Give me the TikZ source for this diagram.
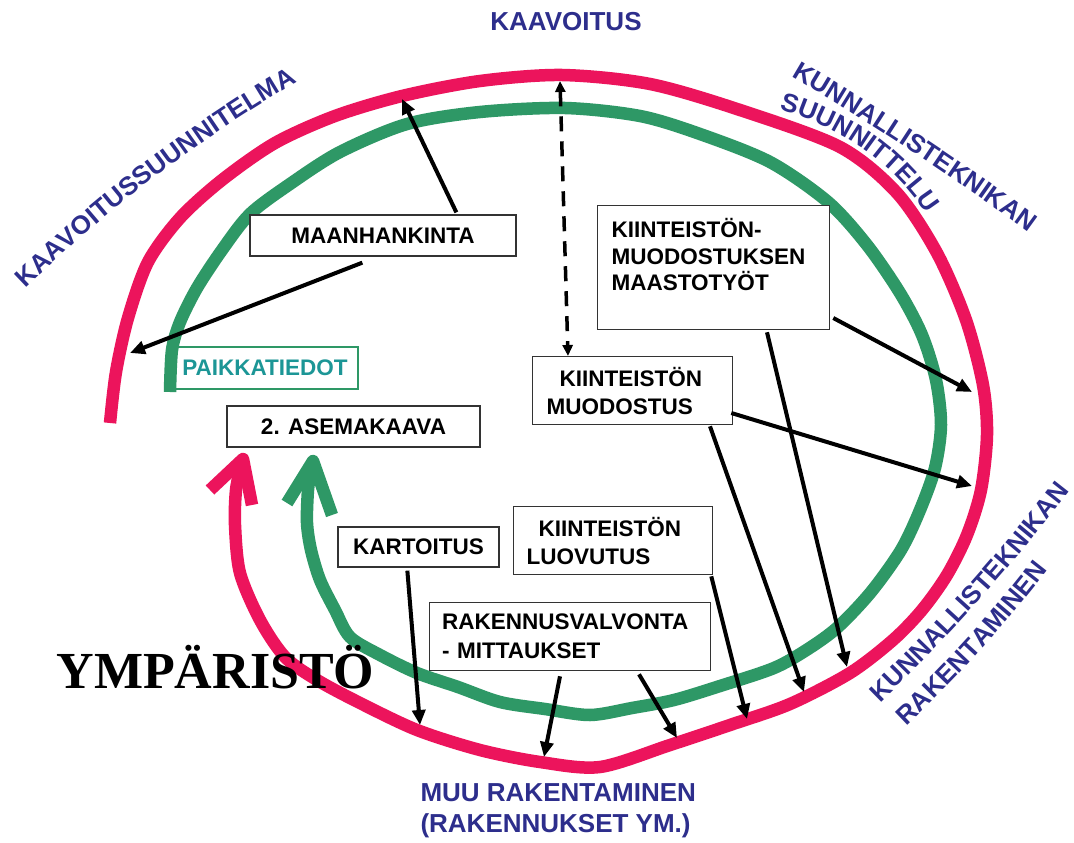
\documentclass[tikz,border=0pt]{standalone}
\usepackage{fontspec}
\setmainfont{Liberation Sans}
\newfontfamily\serifbold{Liberation Serif}
\usetikzlibrary{arrows.meta,calc,decorations.text}
\definecolor{kpink}{RGB}{236,20,92}
\definecolor{kgreen}{RGB}{46,152,102}
\definecolor{kblue}{RGB}{45,46,140}
\definecolor{kteal}{RGB}{28,150,150}
\tikzset{
  band/.style={line width=12.5pt, line cap=butt},
  pinkband/.style={band, draw=kpink},
  greenband/.style={band, draw=kgreen},
  wing/.style={line width=12.5pt, line cap=butt, line join=round},
  box/.style={draw=black!80, line width=1.3pt, fill=white, inner sep=0pt, font=\bfseries\fontsize{22.5}{27}\selectfont},
  tbox/.style={box, anchor=north west, align=left, inner ysep=0pt},
  lbl/.style={text=kblue, font=\bfseries\fontsize{26}{31}\selectfont},
  arr/.style={line width=4pt, -{Triangle[length=15pt,width=13pt]}},
  darr/.style={line width=3.5pt, dash pattern=on 15pt off 10pt, {Triangle[length=11pt,width=10pt]}-{Triangle[length=11pt,width=10pt]}},
  curvedlbl/.style={decorate, decoration={text along path, text align=center, text color=kblue, text={#1}}},
}
\begin{document}
\begin{tikzpicture}[x=1pt,y=-1pt]
\useasboundingbox[fill=white] (0,0) rectangle (1074,843);

% outer (pink) spiral
\draw[pinkband] plot[smooth, tension=0.5] coordinates {(110,423) (116,372) (128,318) (148,262) (180,218) (222,180) (275,143) (335,116) (402,96) (480,81) (562,75) (650,84) (740,110) (840,147) (897,193) (937,253) (966,320) (983,385) (987,435) (981,490) (967,535) (947,575) (922,610) (893,640) (850,673) (790,704) (730,725) (670,745) (600,767) (540,762) (480,750) (417,730) (360,703) (317,680) (285,657) (260,620) (240,573) (235,525) (236,490) (241,466)};
\draw[wing, kpink] (210,490) -- (243,459) -- (252,505);

% inner (green) spiral
\draw[greenband] plot[smooth, tension=0.5] coordinates {(170,392) (172,350) (180,322) (197,288) (222,250) (250,214) (290,184) (340,152) (407,124) (480,112) (565,108) (640,116) (700,134) (770,162) (828,202) (867,245) (900,293) (922,335) (936,380) (941,425) (935,468) (920,510) (901,550) (871,592) (838,627) (808,649) (774,668) (720,686) (674,700) (632,708) (590,715) (545,709) (500,702) (458,687) (417,673) (380,655) (350,637) (335,610) (320,580) (311,550) (307,523) (308,490) (311,470)};
\draw[wing, kgreen] (287,503) -- (313,461) -- (332,515);

% boxes
\node[box, minimum width=266pt, minimum height=41pt] (maan) at (383,235.5) {MAANHANKINTA};
\node[box, minimum width=253pt, minimum height=41pt] (ase) at (353.5,426.5) {2. ASEMAKAAVA};
\node[box, draw=kgreen, fill=none, line width=1.5pt, text=kteal, minimum width=186pt, minimum height=42pt] (paik) at (265,368) {PAIKKATIEDOT};
\node[box, minimum width=161pt, minimum height=40pt] (kart) at (418.5,547) {KARTOITUS};
\node[tbox, inner xsep=14pt, text width=172pt, minimum height=68pt, font=\bfseries\fontsize{22.5}{28}\selectfont] (muod) at (532,356) {\hspace*{13pt}KIINTEISTÖN\\MUODOSTUS};
\node[tbox, inner xsep=13pt, text width=173pt, minimum height=68pt, font=\bfseries\fontsize{22.5}{28}\selectfont] (luov) at (513,506) {\hspace*{12pt}KIINTEISTÖN\\LUOVUTUS};
\node[tbox, inner xsep=12.5pt, text width=256pt, minimum height=68pt, font=\bfseries\fontsize{22.5}{29}\selectfont] (rak) at (429,602) {RAKENNUSVALVONTA\\- MITTAUKSET};
\node[tbox, inner xsep=14pt, text width=204pt, minimum height=124pt, font=\bfseries\fontsize{22.5}{26.5}\selectfont] (mt) at (597,205) {KIINTEISTÖN-\\MUODOSTUKSEN\\MAASTOTYÖT\\\mbox{}};

% labels
\node[lbl, anchor=base] (kaav) at (566,31) {KAAVOITUS};
\node[lbl, anchor=base west, align=left] (muu) at (417,832) {MUU RAKENTAMINEN\\(RAKENNUKSET YM.)};
\node[anchor=base west, font=\serifbold\bfseries\fontsize{52}{60}\selectfont] (ymp) at (53,688) {YMPÄRISTÖ};

\path[curvedlbl={|\bfseries\fontsize{26}{31}\selectfont|KAAVOITUSSUUNNITELMA}] (21,293) .. controls (106,210) and (200,138) .. (303,79);
\path[curvedlbl={|\bfseries\fontsize{26}{31}\selectfont|KUNNALLISTEKNIKAN}] (779,69) .. controls (869,121) and (956,179) .. (1040,241);
\path[curvedlbl={|\bfseries\fontsize{26}{31}\selectfont|SUUNNITTELU}] (768,107) .. controls (830,121) and (895,159) .. (932,224);
\path[curvedlbl={|\bfseries\fontsize{26}{31}\selectfont|KUNNALLISTEKNIKAN}] (871,712) .. controls (946,640) and (1015,563) .. (1078,481);
\path[curvedlbl={|\bfseries\fontsize{26}{31}\selectfont|RAKENTAMINEN}] (898,734) .. controls (955,681) and (1008,623) .. (1055,561);

% arrow end points
\coordinate (e1) at (402,99);
\coordinate (e2) at (130,353);
\coordinate (etop) at (560,81);
\coordinate (e4) at (972,392);
\coordinate (e5) at (847,667);
\coordinate (e6) at (972,486);
\coordinate (e7) at (804,692);
\coordinate (e8) at (747,719);
\coordinate (e9) at (677,738);
\coordinate (e10) at (544,757);
\coordinate (e11) at (420,725);

% connectors
\draw[arr] ($(maan.north west)+(207,-2)$) -- (e1);
\draw[arr] ($(maan.south west)+(113,6)$) -- (e2);
\draw[darr] (etop) -- ($(muod.north west)+(36,0)$);
\draw[arr] ($(mt.north east)+(3,113)$) -- (e4);
\draw[arr] ($(mt.south west)+(170,2)$) -- (e5);
\draw[arr] ($(muod.north east)+(-2,57)$) -- (e6);
\draw[arr] ($(muod.south west)+(178,1)$) -- (e7);
\draw[arr] ($(luov.south east)+(-2,1)$) -- (e8);
\draw[arr] ($(rak.south west)+(210,3)$) -- (e9);
\draw[arr] ($(rak.south west)+(131,5)$) -- (e10);
\draw[arr] ($(kart.south west)+(70,3)$) -- (e11);
\end{tikzpicture}
\end{document}
